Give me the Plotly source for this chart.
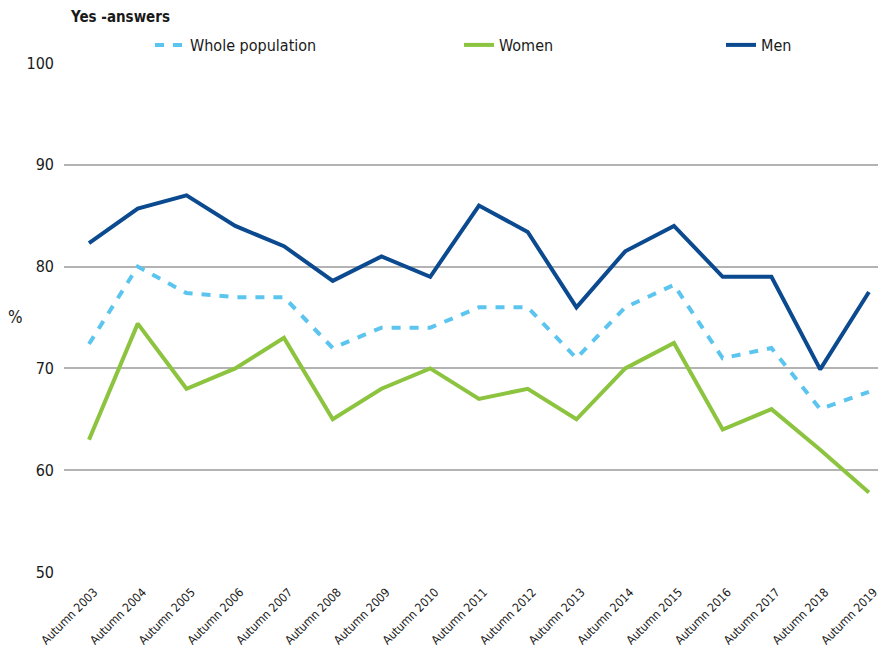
import plotly.graph_objects as go

years = [f"Autumn {y}" for y in range(2003, 2020)]
whole = [72.4, 80.0, 77.4, 77.0, 77.0, 72.0, 74.0, 74.0, 76.0, 76.0, 71.0, 76.0, 78.2, 71.0, 72.0, 66.0, 67.7]
women = [63.0, 74.4, 68.0, 70.0, 73.0, 65.0, 68.0, 70.0, 67.0, 68.0, 65.0, 70.0, 72.5, 64.0, 66.0, 62.0, 57.8]
men = [82.3, 85.7, 87.0, 84.0, 82.0, 78.6, 81.0, 79.0, 86.0, 83.4, 76.0, 81.5, 84.0, 79.0, 79.0, 69.9, 77.5]

FONT = "DejaVu Sans Condensed, Liberation Sans Narrow, sans-serif"
LIGHT = "#5bc5ef"
GREEN = "#8cc43f"
NAVY = "#0b4a8f"

# page body has an 8px margin, so the plot area is placed in screen coords
PL, PT, PW, PH = 64, 63, 822, 509

fig = go.Figure()
fig.add_trace(go.Scatter(
    x=list(range(len(years))), y=whole, name="Whole population", mode="lines",
    line=dict(color=LIGHT, width=4, dash="9px,9px"), legend="legend",
))
fig.add_trace(go.Scatter(
    x=list(range(len(years))), y=women, name="Women", mode="lines",
    line=dict(color=GREEN, width=4), legend="legend2",
))
fig.add_trace(go.Scatter(
    x=list(range(len(years))), y=men, name="Men", mode="lines",
    line=dict(color=NAVY, width=4), legend="legend3",
))

def leg(px):
    return dict(orientation="h", yanchor="middle", xanchor="left", y=1 + (PT - 45) / PH,
                x=(px - PL) / PW, font=dict(family=FONT, size=16, color="#1a1a1a"),
                bgcolor="rgba(0,0,0,0)")

fig.update_layout(
    width=886, height=649,
    margin=dict(l=PL - 8, r=8, t=PT - 8, b=649 - (PT - 8) - PH, autoexpand=False),
    paper_bgcolor="white", plot_bgcolor="white",
    font=dict(family=FONT, color="#1a1a1a"),
    showlegend=True,
    legend=leg(150),
    legend2=leg(459),
    legend3=leg(721),
    xaxis=dict(
        range=[-0.513, 16.35], tickmode="array",
        tickvals=list(range(len(years))), ticktext=years,
        tickangle=-45, tickfont=dict(family=FONT, size=12),
        ticklabelshift=5, ticklabelstandoff=10,
        showgrid=False, zeroline=False, showline=False, ticks="", automargin=False,
    ),
    yaxis=dict(
        range=[50, 100], dtick=10, showgrid=True, gridcolor="#b3b3b3",
        gridwidth=2, zeroline=False, showline=False, ticks="", automargin=False,
        tickfont=dict(family=FONT, size=16), ticklabelstandoff=9,
    ),
)
fig.add_annotation(text="<b>Yes -answers</b>", xref="paper", yref="paper",
                   x=(68 - PL) / PW, y=1 + (PT - 17) / PH, xanchor="left", yanchor="middle",
                   showarrow=False, font=dict(family=FONT, size=15))
fig.add_annotation(text="%", xref="paper", yref="paper",
                   x=-(PL - 15) / PW, y=(PT + PH - 317) / PH, xanchor="center", yanchor="middle",
                   showarrow=False, font=dict(family=FONT, size=17))

fig.write_html("out.html")
